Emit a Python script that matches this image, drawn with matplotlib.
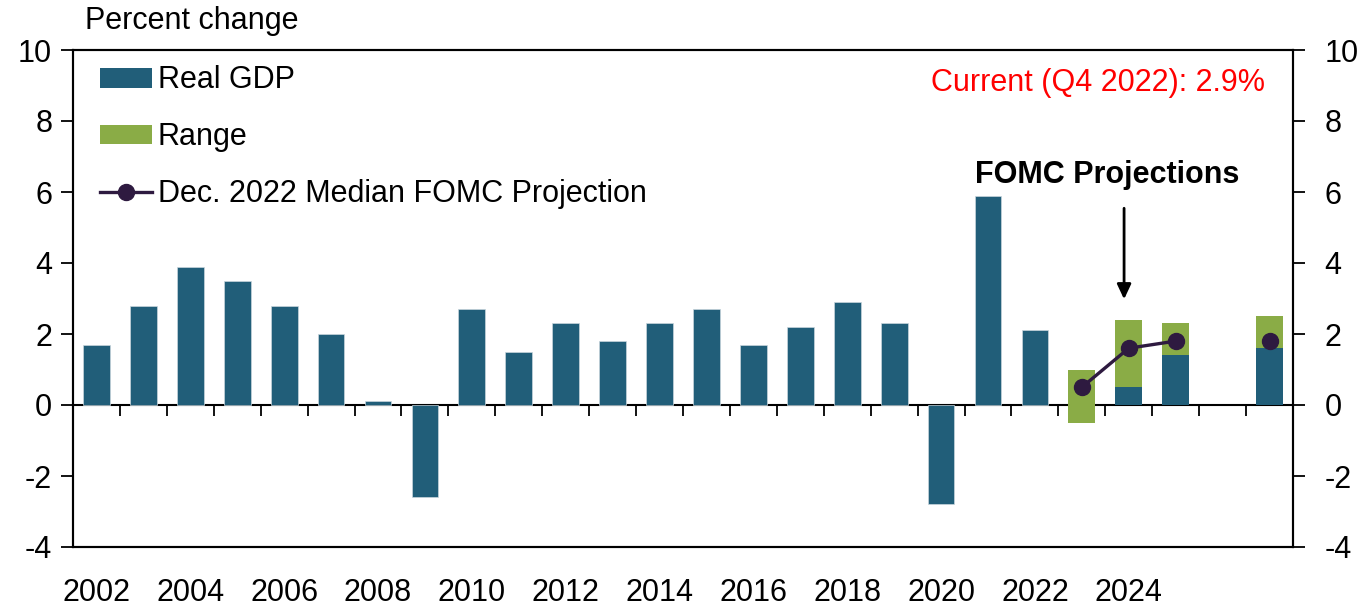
import matplotlib
matplotlib.use("Agg")
import matplotlib.pyplot as plt
from matplotlib import font_manager
from matplotlib.patches import Patch
from matplotlib.lines import Line2D

# ---- data ----
actual_years = list(range(2002, 2023))
actual_gdp = [1.7, 2.8, 3.9, 3.5, 2.8, 2.0, 0.1, -2.6, 2.7, 1.5, 2.3,
              1.8, 2.3, 2.7, 1.7, 2.2, 2.9, 2.3, -2.8, 5.9, 2.1]
proj_labels = ["2023", "2024", "2025", "Longer run"]
proj_pos = [2023, 2024, 2025, 2027]
range_low = [-0.5, 0.5, 1.4, 1.6]
range_high = [1.0, 2.4, 2.3, 2.5]
median_proj = [0.5, 1.6, 1.8, 1.8]
year_tick_labels = [str(y) for y in range(2002, 2025, 2)]
y_ticks = [-4, -2, 0, 2, 4, 6, 8, 10]

# ---- fonts ----
names = {f.name for f in font_manager.fontManager.ttflist}
fam = "Liberation Sans Narrow" if "Liberation Sans Narrow" in names else "Liberation Sans"
plt.rcParams["font.family"] = [fam, "DejaVu Sans"]
FS = 22

BLUE = "#215E79"
GREEN = "#8AAC46"
PURPLE = "#2E1A40"

fig = plt.figure(figsize=(13.66, 6.09), dpi=100)
ax = fig.add_axes([73 / 1366, 1 - 547 / 609, (1293 - 73) / 1366, (547 - 50) / 609])

W = 0.57
ax.bar(actual_years, actual_gdp, width=W, color=BLUE, edgecolor="#c9d6dd", linewidth=0.5, zorder=2)

blue_proj = [lo if lo > 0 else 0 for lo in range_low]
ax.bar(proj_pos, blue_proj, width=W, color=BLUE, edgecolor="none", zorder=2)
ax.bar(proj_pos, [h - l for h, l in zip(range_high, range_low)], bottom=range_low,
       width=W, color=GREEN, edgecolor="none", zorder=1)

ax.plot(proj_pos[:3], median_proj[:3], color=PURPLE, lw=2.4, marker="o", ms=11.5, zorder=4)
ax.plot(proj_pos[3:], median_proj[3:], color=PURPLE, lw=0, marker="o", ms=11.5, zorder=4)

ax.set_xlim(2001.5, 2027.5)
ax.set_ylim(-4, 10)

# y axes
ax.set_yticks(y_ticks)
ax.set_yticklabels([str(v) for v in y_ticks])
ax.tick_params(axis="y", which="major", direction="out", length=8.5, width=1.3,
               labelsize=FS, pad=6.5, left=True, right=True, labelleft=True)
ax2 = ax.twinx()
ax2.set_ylim(-4, 10)
ax2.set_yticks(y_ticks)
ax2.set_yticklabels([str(v) for v in y_ticks])
ax2.tick_params(axis="y", direction="out", length=8.5, width=1.3, labelsize=FS, pad=14)
for a in (ax, ax2):
    for s in a.spines.values():
        s.set_linewidth(1.5)
        s.set_color("black")

# x labels at bottom
ax.set_xticks(list(range(2002, 2025, 2)))
ax.set_xticklabels(year_tick_labels)
ax.tick_params(axis="x", length=0, labelsize=FS, pad=22)

# zero axis with boundary ticks
sec = ax.secondary_xaxis(4 / 14)
sec.set_xticks([y + 0.5 for y in range(2002, 2027)])
sec.set_xticklabels([])
sec.tick_params(axis="x", direction="out", length=8, width=1.3)
sec.spines["bottom"].set_linewidth(1.5)

# annotations
ax.text(0.977, 0.934, "Current (Q4 2022): 2.9%", color="#FF0000", fontsize=FS,
        ha="right", va="center", transform=ax.transAxes)
ax.text(2023.55, 6.48, "FOMC Projections", fontsize=FS, fontweight="bold",
        ha="center", va="center")
ax.annotate("", xy=(2023.9, 2.9), xytext=(2023.9, 5.62),
            arrowprops=dict(arrowstyle="-|>,head_length=0.9,head_width=0.42",
                            color="black", lw=2.0))

fig.text(85 / 1366, 1 - 21 / 609, "Percent change", fontsize=FS, ha="left", va="center")

handles = [Patch(facecolor=BLUE, edgecolor="none"),
           Patch(facecolor=GREEN, edgecolor="none"),
           Line2D([0], [0], color=PURPLE, lw=2.4, marker="o", ms=11.5)]
ax.legend(handles, ["Real GDP", "Range", "Dec. 2022 Median FOMC Projection"],
          loc="upper left", bbox_to_anchor=(0.022, 0.969), frameon=False,
          fontsize=FS, handlelength=1.7, handleheight=0.62, handletextpad=0.2,
          labelspacing=0.88, borderpad=0, borderaxespad=0)

fig.savefig("out.png", dpi=100)
